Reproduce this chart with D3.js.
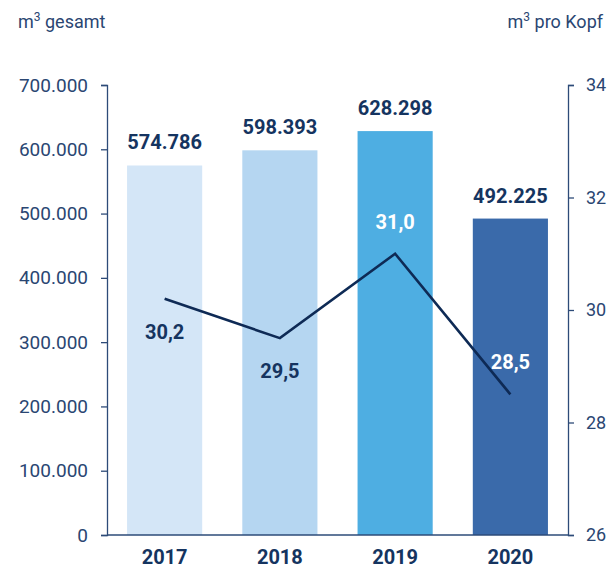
<!DOCTYPE html>
<html>
<head>
<meta charset="utf-8">
<script src="https://cdn.jsdelivr.net/npm/d3@7"></script>
<style>
  body { margin: 0; background: #fff; }
  svg { display: block; font-family: Roboto, "DejaVu Sans Condensed", sans-serif; }
</style>
</head>
<body>
<svg id="chart" width="607" height="569"></svg>
<script>
var years = ['2017', '2018', '2019', '2020'];
var totals = [574786, 598393, 628298, 492225];
var perHead = [30.2, 29.5, 31.0, 28.5];
var barColors = ['#d4e6f7', '#b5d6f1', '#4eaee2', '#3a6aaa'];
var leftTicks = [0, 100000, 200000, 300000, 400000, 500000, 600000, 700000];
var rightTicks = [26, 28, 30, 32, 34];

var navy = '#153460';
var axisCol = '#2d4b78';

var margin = {top: 85, right: 39, bottom: 34, left: 107},
	w = 607 - margin.left - margin.right,
	h = 569 - margin.top - margin.bottom;

var de = d3.formatLocale({decimal: ',', thousands: '.', grouping: [3], currency: ['', '€']});
var fmtThousands = de.format(',');
var fmtOne = de.format('.1f');

var svg = d3.select('#chart');
var chart = svg.append('g')
	.attr('transform', 'translate(' + margin.left + ',' + margin.top + ')');

// scales
var x = d3.scaleBand()
	.domain(years)
	.range([0, w])
	.paddingInner(0.348)
	.paddingOuter(0.174);

var yLeft = d3.scaleLinear().domain([0, 700000]).range([h, 0]);
var yRight = d3.scaleLinear().domain([26, 34]).range([h, 0]);

// bars
chart.selectAll('rect.bar')
	.data(totals)
	.enter().append('rect')
	.attr('class', 'bar')
	.attr('x', function(d, i) { return x(years[i]); })
	.attr('y', function(d) { return yLeft(d); })
	.attr('width', x.bandwidth())
	.attr('height', function(d) { return h - yLeft(d); })
	.attr('fill', function(d, i) { return barColors[i]; });

// baseline
chart.append('line')
	.attr('x1', 0).attr('x2', w)
	.attr('y1', h).attr('y2', h)
	.attr('stroke', axisCol).attr('stroke-width', 1.3);

// left axis
var gl = chart.append('g')
	.call(d3.axisLeft(yLeft).tickValues(leftTicks).tickFormat(fmtThousands).tickSize(6).tickSizeOuter(6).tickPadding(13));

// right axis
var gr = chart.append('g')
	.attr('transform', 'translate(' + w + ',0)')
	.call(d3.axisRight(yRight).tickValues(rightTicks).tickSize(6).tickSizeOuter(6).tickPadding(12));

[gl, gr].forEach(function(g) {
	g.select('.domain').attr('stroke', axisCol).attr('stroke-width', 1.3);
	g.selectAll('.tick line').attr('stroke', axisCol).attr('stroke-width', 1.3);
	g.selectAll('.tick text')
		.attr('fill', '#2a4672')
		.style('font-size', '19px')
		.style('font-family', 'Roboto, sans-serif');
});
gr.selectAll('.tick text').style('font-size', '18px');

// bar value labels
chart.selectAll('text.total')
	.data(totals)
	.enter().append('text')
	.attr('class', 'total')
	.attr('x', function(d, i) { return x(years[i]) + x.bandwidth() / 2; })
	.attr('y', function(d) { return yLeft(d) - 16; })
	.attr('text-anchor', 'middle')
	.attr('fill', navy)
	.style('font-size', '20px')
	.style('font-weight', 'bold')
	.text(function(d) { return fmtThousands(d); });

// year labels
chart.selectAll('text.year')
	.data(years)
	.enter().append('text')
	.attr('class', 'year')
	.attr('x', function(d) { return x(d) + x.bandwidth() / 2; })
	.attr('y', h + 29)
	.attr('text-anchor', 'middle')
	.attr('fill', navy)
	.style('font-size', '20px')
	.style('font-weight', 'bold')
	.text(function(d) { return d; });

// line
var line = d3.line()
	.x(function(d, i) { return x(years[i]) + x.bandwidth() / 2; })
	.y(function(d) { return yRight(d); });

chart.append('path')
	.datum(perHead)
	.attr('d', line)
	.attr('fill', 'none')
	.attr('stroke', '#0e2a55')
	.attr('stroke-width', 2.6);

// line labels: below for first two, above (white) for the others
var below = [true, true, false, false];
chart.selectAll('text.perhead')
	.data(perHead)
	.enter().append('text')
	.attr('class', 'perhead')
	.attr('x', function(d, i) { return x(years[i]) + x.bandwidth() / 2; })
	.attr('y', function(d, i) { return below[i] ? yRight(d) + 40 : yRight(d) - 25; })
	.attr('text-anchor', 'middle')
	.attr('fill', function(d, i) { return below[i] ? navy : '#ffffff'; })
	.style('font-size', '20px')
	.style('font-weight', 'bold')
	.text(function(d) { return fmtOne(d); });

// axis titles
var t1 = svg.append('text')
	.attr('x', 18).attr('y', 28)
	.attr('fill', '#2a4672')
	.style('font-size', '18px');
t1.append('tspan').text('m');
t1.append('tspan').attr('dy', -7).style('font-size', '12px').text('3');
t1.append('tspan').attr('dy', 7).text(' gesamt');

var t2 = svg.append('text')
	.attr('x', 603).attr('y', 28)
	.attr('text-anchor', 'end')
	.attr('fill', '#2a4672')
	.style('font-size', '18px');
t2.append('tspan').text('m');
t2.append('tspan').attr('dy', -7).style('font-size', '12px').text('3');
t2.append('tspan').attr('dy', 7).text(' pro Kopf');
</script>
</body>
</html>
